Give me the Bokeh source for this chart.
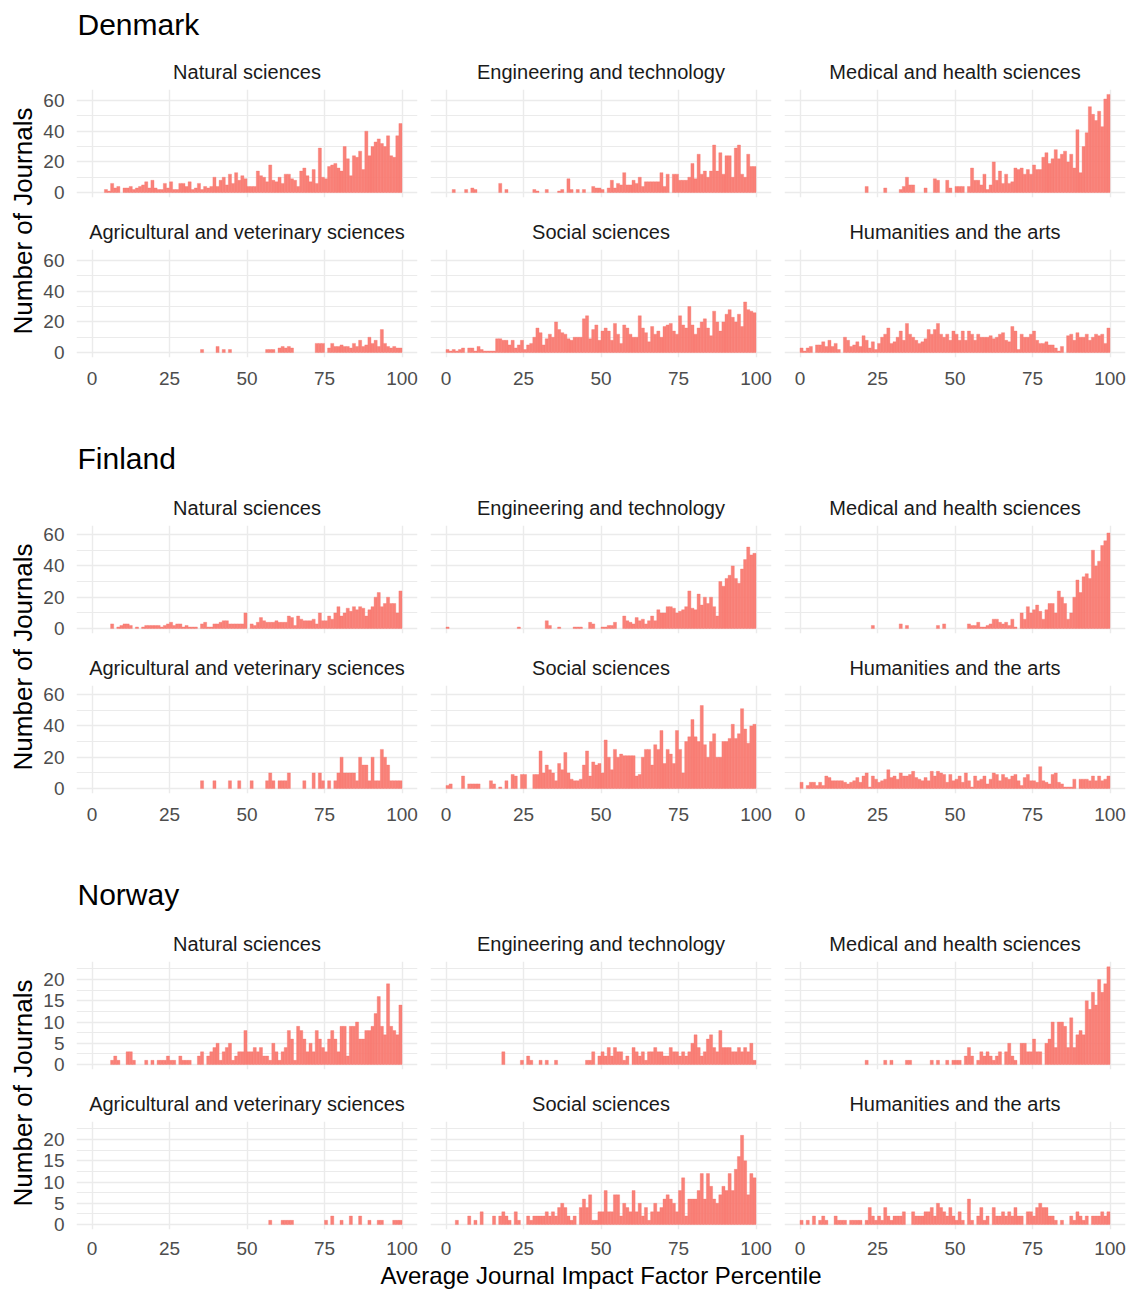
import numpy as np
from bokeh.plotting import figure
from bokeh.layouts import row, column
from bokeh.models import Range1d, Grid, FixedTicker, LinearAxis
from bokeh.core.properties import value
from bokeh.embed import file_html
from bokeh.resources import INLINE

# ---------------- data ----------------
countries = ["Denmark", "Finland", "Norway"]
fields = ["Natural sciences", "Engineering and technology", "Medical and health sciences",
          "Agricultural and veterinary sciences", "Social sciences", "Humanities and the arts"]
x_ticks = [0, 25, 50, 75, 100]
y_major = {"Denmark": [0, 20, 40, 60], "Finland": [0, 20, 40, 60], "Norway": [0, 5, 10, 15, 20]}
y_minor = {"Denmark": [10, 30, 50], "Finland": [10, 30, 50], "Norway": [2.5, 7.5, 12.5, 17.5, 22.5]}
x_title = "Average Journal Impact Factor Percentile"
y_title = "Number of Journals"

# counts per 1-percentile bin (0-1, 1-2, ..., 99-100)
dk_nat = [0,0,0,0,2,1,6,3,4,0, 3,3,4,2,3,4,5,7,3,8, 3,2,2,6,3,7,2,2,6,6, 4,7,2,3,6,2,4,3,4,10,
          4,8,10,5,12,6,13,8,11,9, 4,4,4,14,11,10,7,18,8,7, 10,6,12,12,9,8,4,14,16,11,
          7,15,6,29,10,9,17,18,19,16, 14,30,22,11,24,23,27,15,40,24, 30,33,35,32,30,37,24,23,37,45]
dk_eng = [0,0,2,0,0,0,2,0,3,2, 0,0,0,0,0,0,0,6,0,2, 0,0,0,0,0,0,0,0,2,1, 0,0,2,0,0,0,1,2,0,9,
          2,0,2,0,2,0,0,4,3,3, 2,0,3,8,3,6,5,13,5,5, 8,6,10,4,7,7,7,7,7,13,
          4,12,0,12,12,8,8,8,10,19, 9,25,12,14,10,14,31,14,26,12, 24,24,10,29,31,12,10,25,17,17]
dk_med = [0,0,0,0,0,0,0,0,0,0, 0,0,0,0,0,0,0,0,0,0, 0,4,0,0,0,0,0,3,0,0, 0,0,2,4,10,5,5,0,0,0,
          3,0,0,9,8,0,0,8,3,0, 4,4,4,0,4,16,8,8,5,12, 2,5,20,8,14,6,12,6,7,16,
          15,16,12,15,12,18,15,15,23,26, 19,22,28,22,25,27,20,25,16,41, 13,30,39,56,51,47,53,43,61,64]
dk_agr = [0,0,0,0,0,0,0,0,0,0, 0,0,0,0,0,0,0,0,0,0, 0,0,0,0,0,0,0,0,0,0, 0,0,0,0,0,2,0,0,0,0,
          4,0,2,0,2,0,0,0,0,0, 0,0,0,0,0,0,2,2,2,0, 3,4,3,4,3,0,0,0,0,0,
          0,0,6,6,6,0,3,6,4,4, 5,4,4,3,6,4,8,4,5,10, 6,8,4,15,6,4,3,4,3,3]
dk_soc = [2,1,2,1,2,3,0,3,3,1, 4,2,1,1,1,1,9,9,8,8, 5,8,3,5,8,2,5,6,10,16, 13,5,9,12,10,20,15,13,12,9,
          8,10,10,10,22,24,9,15,18,8, 14,16,14,8,19,12,6,18,16,12, 10,10,24,16,13,7,17,12,14,10,
          17,18,19,14,12,24,18,16,30,18, 12,16,20,22,16,11,27,20,14,20, 25,28,23,20,25,17,33,28,27,26]
dk_hum = [3,1,3,4,0,5,5,7,4,8, 4,6,2,0,10,8,4,5,7,4, 11,8,3,7,2,6,10,12,16,6, 7,10,14,8,19,12,10,8,6,7,
          9,15,12,15,19,12,10,12,8,14, 12,8,14,8,14,12,8,12,10,10, 10,11,9,10,12,13,8,7,17,14,
          2,12,10,10,12,14,8,6,6,7, 5,5,3,1,4,0,11,12,8,13, 10,10,12,8,10,12,11,12,6,16]

fi_nat = [0,0,0,0,0,0,3,0,1,2, 3,3,2,0,1,0,1,2,2,2, 2,2,1,2,3,4,2,3,3,1, 2,1,1,1,0,3,4,1,1,3,
          3,4,5,5,3,3,3,3,3,10, 0,3,2,4,7,5,4,4,4,5, 4,4,4,8,7,2,8,6,5,5,
          5,6,3,10,5,5,8,6,10,14, 8,10,13,11,14,12,14,13,8,12, 14,20,23,14,16,20,16,16,10,24]
fi_eng = [1,0,0,0,0,0,0,0,0,0, 0,0,0,0,0,0,0,0,0,0, 0,0,0,1,0,0,0,0,0,0, 0,0,5,2,0,0,1,0,0,0,
          0,1,1,1,0,0,4,3,0,0, 1,1,2,2,4,0,0,8,5,4, 3,7,5,6,3,5,8,5,12,10,
          10,14,14,13,10,11,12,14,24,13, 12,22,15,20,16,20,14,8,30,27, 32,34,40,32,29,38,44,52,47,48]
fi_med = [0,0,0,0,0,0,0,0,0,0, 0,0,0,0,0,0,0,0,0,0, 0,0,0,2,0,0,0,0,0,0, 0,0,3,0,2,0,0,0,0,0,
          0,0,0,0,2,0,3,0,0,0, 0,0,0,0,3,2,2,4,1,1, 2,3,6,6,4,3,4,2,6,1,
          0,10,6,14,10,12,15,11,6,12, 16,16,10,24,20,16,6,10,20,31, 23,33,35,32,50,40,43,53,56,61]
fi_agr = [0,0,0,0,0,0,0,0,0,0, 0,0,0,0,0,0,0,0,0,0, 0,0,0,0,0,0,0,0,0,0, 0,0,0,0,0,5,0,0,0,5,
          0,0,0,0,5,0,0,5,0,0, 0,5,0,0,0,0,5,10,5,0, 5,5,5,10,0,0,0,0,5,0,
          0,10,0,10,5,0,5,0,5,10, 20,10,10,10,10,5,20,15,15,5, 20,5,5,25,20,15,5,5,5,5]
fi_soc = [2,3,0,0,0,8,0,3,3,3, 3,0,0,0,5,3,0,1,0,5, 0,9,8,0,9,9,0,0,9,9, 24,10,15,12,10,5,16,12,23,10,
          6,5,5,6,15,24,8,17,15,16, 10,31,20,12,25,20,22,21,21,21, 21,8,9,20,25,25,15,28,25,37,
          16,25,22,16,37,25,10,30,33,44, 33,30,53,28,20,30,35,20,20,30, 30,32,41,32,35,51,38,29,40,41]
fi_hum = [4,0,2,4,4,2,4,2,8,7, 5,5,5,5,4,3,4,5,7,4, 8,10,1,8,6,4,5,6,12,7, 8,6,10,8,8,9,11,7,6,5,
          7,5,11,8,11,10,9,4,9,5, 6,8,4,10,5,1,8,5,6,8, 3,6,10,9,5,9,7,6,8,9,
          5,2,7,9,5,5,4,14,5,4, 3,9,10,4,3,1,1,1,6,0, 6,6,6,5,8,5,8,5,6,8]

no_nat = [0,0,0,0,0,0,1,2,1,0, 0,3,3,1,0,0,0,1,0,1, 0,1,1,1,2,1,1,0,2,1, 1,1,0,0,2,3,0,2,3,4,
          5,1,3,4,5,1,2,3,3,8, 3,3,4,3,4,2,2,1,5,3, 1,3,4,8,6,1,9,8,6,3,
          5,3,8,6,4,3,6,8,6,3, 9,9,2,9,9,10,6,6,8,8, 9,12,16,9,7,19,9,8,7,14]
no_eng = [0,0,0,0,0,0,0,0,0,0, 0,0,0,0,0,0,0,0,3,0, 0,0,0,0,1,0,2,1,0,0, 1,0,1,0,0,1,0,0,0,0,
          0,0,0,0,0,1,1,3,0,2, 3,2,4,2,4,3,3,1,2,0, 4,3,2,3,1,3,3,4,3,3,
          2,2,4,3,3,2,3,2,3,5, 7,4,2,3,6,7,4,3,8,4, 4,4,3,3,4,3,4,3,5,1]
no_med = [0,0,0,0,0,0,0,0,0,0, 0,0,0,0,0,0,0,0,0,0, 0,1,0,0,0,0,0,1,0,1, 0,0,0,0,1,1,0,0,0,0,
          0,0,1,0,1,0,0,1,0,1, 1,1,0,2,4,2,0,1,3,2, 3,2,1,2,3,0,3,5,2,1,
          0,5,5,3,3,6,3,3,0,5, 6,10,4,10,10,9,4,11,4,7, 8,7,15,13,17,14,20,17,19,23]
no_agr = [0,0,0,0,0,0,0,0,0,0, 0,0,0,0,0,0,0,0,0,0, 0,0,0,0,0,0,0,0,0,0, 0,0,0,0,0,0,0,0,0,0,
          0,0,0,0,0,0,0,0,0,0, 0,0,0,0,0,0,0,1,0,0, 0,1,1,1,1,0,0,0,0,0,
          0,0,0,0,0,1,0,2,0,0, 1,0,0,2,0,0,2,0,0,1, 0,0,1,1,0,0,0,1,1,1]
no_soc = [0,0,0,1,0,0,0,2,0,1, 0,3,0,0,0,2,0,2,3,2, 1,0,3,1,0,0,2,1,2,2, 2,2,3,2,3,2,4,5,4,2,
          1,2,0,4,6,4,7,1,1,3, 3,8,3,3,7,7,2,5,4,3, 8,3,5,2,4,1,3,5,3,4,
          6,7,6,5,3,8,11,2,6,6, 6,8,12,6,12,9,6,5,7,9, 8,12,8,13,16,21,15,7,12,11]
no_hum = [1,0,1,0,2,0,1,2,1,0, 0,2,1,1,1,0,1,1,1,1, 0,1,4,2,1,2,1,4,2,1, 2,2,2,3,0,0,3,2,2,2,
          3,3,4,2,5,4,3,2,4,2, 1,3,1,0,6,1,0,2,4,1, 2,0,4,2,2,3,2,3,2,4,
          2,2,0,3,3,2,4,5,4,4, 2,2,1,0,1,0,0,2,1,3, 2,1,2,0,2,2,2,3,2,3]

data = {
    "Denmark": [dk_nat, dk_eng, dk_med, dk_agr, dk_soc, dk_hum],
    "Finland": [fi_nat, fi_eng, fi_med, fi_agr, fi_soc, fi_hum],
    "Norway": [no_nat, no_eng, no_med, no_agr, no_soc, no_hum],
}

# ---------------- style / layout ----------------
FONT = "Liberation Sans"
BAR = "#F8766D"
GRID = "#EBEBEB"
y_limits = {"Denmark": (-3.2, 67.2), "Finland": (-3.13, 65.76), "Norway": (-1.155, 24.26)}

FRAME_W, FRAME_H = 341, 108
YLAB_W = 36
BL = [40, 7, 7]
BR = [6, 6, 2]
TOTAL_W = YLAB_W + sum(BL) + 3 * FRAME_W + sum(BR)
BB_MID = 83
BB_LAST = 34


def blank(w, h):
    p = figure(width=w, height=h, x_range=Range1d(0, w), y_range=Range1d(h, 0),
               x_axis_location=None, y_axis_location=None, toolbar_location=None,
               output_backend="svg", min_border=0, title=None)
    p.xgrid.visible = False
    p.ygrid.visible = False
    p.outline_line_color = None
    p.background_fill_color = None
    p.border_fill_color = None
    return p


def panel(country, k, col, r, last):
    tb = 41 if r == 0 else 40
    bb = 12 if r == 0 else (BB_LAST if last else BB_MID)
    w = BL[col] + FRAME_W + BR[col]
    h = tb + FRAME_H + bb
    p = figure(width=w, height=h, x_range=Range1d(-5, 105), y_range=Range1d(*y_limits[country]),
               x_axis_location=None, y_axis_location=None, toolbar_location=None,
               output_backend="svg", title=fields[k],
               min_border_left=BL[col], min_border_right=BR[col],
               min_border_top=tb, min_border_bottom=bb)
    p.xgrid.visible = False
    p.ygrid.visible = False
    p.outline_line_color = None
    p.title.align = "center"
    p.title.text_font = FONT
    p.title.text_font_style = "normal"
    p.title.text_font_size = "20px"
    p.title.text_color = "#1A1A1A"
    p.title.standoff = 13
    p.add_layout(Grid(dimension=0, ticker=FixedTicker(ticks=x_ticks),
                      grid_line_color=GRID, grid_line_width=1.4))
    p.add_layout(Grid(dimension=1, ticker=FixedTicker(ticks=y_major[country]),
                      grid_line_color=GRID, grid_line_width=1.4))
    p.add_layout(Grid(dimension=1, ticker=FixedTicker(ticks=y_minor[country]),
                      grid_line_color=GRID, grid_line_width=1.0))
    counts = np.asarray(data[country][k], dtype=float)
    centers = np.arange(len(counts)) + 0.5
    keep = counts > 0
    p.vbar(x=centers[keep], top=counts[keep], bottom=0, width=1.0,
           fill_color=BAR, fill_alpha=0.92, line_color=BAR, line_alpha=0.92, line_width=0.4)

    def style(ax):
        ax.axis_line_color = None
        ax.major_tick_line_color = None
        ax.minor_tick_line_color = None
        ax.major_tick_out = 0
        ax.major_tick_in = 0
        ax.major_label_text_font = FONT
        ax.major_label_text_font_size = "19px"
        ax.major_label_text_color = "#4D4D4D"

    if col == 0:
        ax = LinearAxis(ticker=FixedTicker(ticks=y_major[country]))
        style(ax)
        ax.major_label_standoff = 12
        p.add_layout(ax, "left")
    if r == 1:
        ax = LinearAxis(ticker=FixedTicker(ticks=x_ticks))
        style(ax)
        ax.major_label_standoff = 12 if last else 14
        p.add_layout(ax, "below")
    return p


blocks = []
for ci, country in enumerate(countries):
    last = ci == len(countries) - 1
    head_h = 48 if ci == 0 else 44
    head = blank(TOTAL_W, head_h)
    head.text(x=[77], y=[23.5 if ci == 0 else 17.5], text=[country], text_font=value(FONT),
              text_font_size="30px", text_color="#000000", text_align="left",
              text_baseline="middle")
    rows = []
    for r in range(2):
        figs = [panel(country, r * 3 + c, c, r, last) for c in range(3)]
        rows.append(row(*figs, spacing=0))
    h1 = 41 + FRAME_H + 12
    h2 = 40 + FRAME_H + (BB_LAST if last else BB_MID)
    ylab = blank(YLAB_W, h1 + h2)
    ylab.text(x=[22], y=[172.5], text=[y_title], angle=np.pi / 2, text_font=value(FONT),
              text_font_size="26px", text_color="#000000", text_align="center",
              text_baseline="middle")
    blocks.append(head)
    blocks.append(row(ylab, column(*rows, spacing=0), spacing=0))

foot = blank(TOTAL_W, 26)
foot.text(x=[600.5], y=[12], text=[x_title], text_font=value(FONT), text_font_size="24px",
          text_color="#000000", text_align="center", text_baseline="middle")
blocks.append(foot)

layout = column(*blocks, spacing=0)
html = file_html(layout, INLINE, title="Journal impact factor percentiles")
html = html.replace("</head>", "<style>html,body{overflow:hidden;}</style></head>", 1)
open("out.html", "w").write(html)
